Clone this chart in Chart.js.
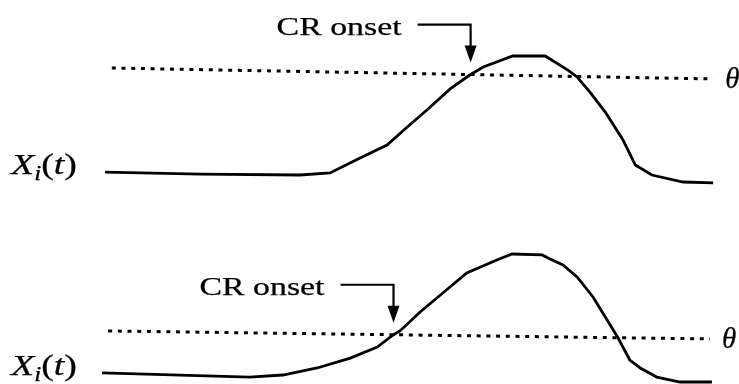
<!DOCTYPE html>
<html>
<head>
<meta charset="utf-8">
<script src="https://cdn.jsdelivr.net/npm/chart.js@4.4.1/dist/chart.umd.min.js"></script>
<style>
  html, body { margin: 0; padding: 0; background: #fff; }
  .panel { position: absolute; left: 0; width: 739px; height: 192px; }
</style>
</head>
<body>
<div class="panel" style="top:0"><canvas id="topChart" width="739" height="192"></canvas></div>
<div class="panel" style="top:192px"><canvas id="bottomChart" width="739" height="192"></canvas></div>
<script>
// response X_i(t) over time, one trace per panel (time 0..100, peak = 1)
const tTop = [0.5, 16.0, 32.3, 37.2, 42.1, 46.5, 49.8, 53.0, 56.8, 60.0, 62.2, 67.0, 72.3, 76.0, 77.5, 79.6, 82.1, 85.0, 87.0, 89.7, 94.8, 99.7];
const xTop = [0.025, 0.008, 0, 0.017, 0.143, 0.252, 0.403, 0.546, 0.723, 0.840, 0.908, 1.0, 1.0, 0.882, 0.824, 0.697, 0.529, 0.294, 0.084, 0, -0.059, -0.067];

const tBottom = [0, 24.1, 29.5, 35.1, 40.5, 44.9, 47.5, 48.6, 51.9, 55.6, 59.5, 64.4, 66.9, 71.8, 73.1, 75.2, 77.5, 80.1, 82.4, 84.2, 86.1, 87.8, 90.5, 94.3, 99.5];
const xBottom = [0.017, -0.017, 0, 0.058, 0.140, 0.231, 0.331, 0.364, 0.521, 0.678, 0.843, 0.950, 1.0, 0.992, 0.959, 0.909, 0.810, 0.645, 0.455, 0.306, 0.124, 0.058, -0.017, -0.058, -0.058];

// threshold theta, start and end of the dotted line
const thetaTopT = [1.6, 99.7];
const thetaTopV = [0.899, 0.807];
const thetaBottomT = [1.0, 99.2];
const thetaBottomV = [0.364, 0.298];

const onsetLabel = 'CR onset';
const thetaLabel = '\u03b8';

const serif = '"Liberation Serif", "Times New Roman", serif';

// draw a run of text pieces, stretched to a given width
function drawPieces(ctx, pieces, x, baseline, width, alignRight) {
    let natural = 0;
    pieces.forEach(p => {
        ctx.font = p.font;
        natural += ctx.measureText(p.text).width;
    });
    const sx = width ? width / natural : 1;
    ctx.save();
    ctx.translate(alignRight ? x - natural * sx : x, baseline);
    ctx.scale(sx, 1);
    ctx.fillStyle = '#000';
    ctx.strokeStyle = '#000';
    ctx.lineWidth = 0.25;
    ctx.textBaseline = 'alphabetic';
    ctx.textAlign = 'left';
    let cx = 0;
    pieces.forEach(p => {
        ctx.font = p.font;
        ctx.fillText(p.text, cx, p.dy || 0);
        ctx.strokeText(p.text, cx, p.dy || 0);
        cx += ctx.measureText(p.text).width;
    });
    ctx.restore();
}

// first time the response rises through the threshold line
function findOnset(resp, theta) {
    const th = t => theta[0].y + (theta[1].y - theta[0].y) * (t - theta[0].x) / (theta[1].x - theta[0].x);
    for (let i = 0; i < resp.length - 1; i++) {
        const a = resp[i], b = resp[i + 1];
        const da = a.y - th(a.x), db = b.y - th(b.x);
        if (da < 0 && db >= 0) {
            const f = -da / (db - da);
            const t = a.x + f * (b.x - a.x);
            return { x: t, y: th(t) };
        }
    }
    return null;
}

const cuePlugin = {
    id: 'cueMarks',
    afterDatasetsDraw: (chart) => {
        const ctx = chart.ctx;
        const xs = chart.scales.x, ys = chart.scales.y;
        const resp = chart.data.datasets[0].data;
        const theta = chart.data.datasets[1].data;

        // X_i(t) label left of the trace
        const startY = ys.getPixelForValue(resp[0].y);
        drawPieces(ctx, [
            { text: 'X', font: 'italic 30px ' + serif },
            { text: 'i', font: 'italic 20px ' + serif, dy: 6 },
            { text: '(', font: '30px ' + serif },
            { text: 't', font: 'italic 30px ' + serif },
            { text: ')', font: '30px ' + serif }
        ], xs.left - 25, startY + 2, 66, true);

        // theta at the end of the dotted line
        const end = theta[theta.length - 1];
        drawPieces(ctx, [{ text: thetaLabel, font: 'italic 29px ' + serif }],
            xs.getPixelForValue(end.x) + 12, ys.getPixelForValue(end.y) + 9, 0, false);

        // onset arrow
        const onset = findOnset(resp, theta);
        if (!onset) return;
        const tipX = xs.getPixelForValue(onset.x);
        const tipY = ys.getPixelForValue(onset.y) - 12;
        const topY = tipY - 38;
        const leftX = tipX - 53;
        ctx.save();
        ctx.strokeStyle = '#000';
        ctx.fillStyle = '#000';
        ctx.lineWidth = 2.2;
        ctx.beginPath();
        ctx.moveTo(leftX, topY);
        ctx.lineTo(tipX, topY);
        ctx.lineTo(tipX, tipY - 15);
        ctx.stroke();
        ctx.beginPath();
        ctx.moveTo(tipX - 6, tipY - 17);
        ctx.lineTo(tipX + 6, tipY - 17);
        ctx.lineTo(tipX, tipY);
        ctx.closePath();
        ctx.fill();
        ctx.restore();

        drawPieces(ctx, [{ text: onsetLabel, font: '26px ' + serif }], leftX - 16, topY + 10, 125, true);
    }
};

function makePanel(id, time, resp, thT, thV, padding) {
    const respData = time.map((t, i) => ({ x: t, y: resp[i] }));
    const thetaData = thT.map((t, i) => ({ x: t, y: thV[i] }));
    return new Chart(document.getElementById(id).getContext('2d'), {
        type: 'line',
        data: {
            datasets: [
                {
                    label: 'X_i(t)',
                    data: respData,
                    borderColor: '#000',
                    borderWidth: 2.8,
                    pointRadius: 0,
                    tension: 0,
                    clip: false
                },
                {
                    label: 'theta',
                    data: thetaData,
                    borderColor: '#000',
                    borderWidth: 3,
                    borderDash: [4, 5.7],
                    pointRadius: 0,
                    clip: false
                }
            ]
        },
        options: {
            responsive: false,
            animation: false,
            events: [],
            layout: { padding: padding },
            scales: {
                x: { type: 'linear', min: 0, max: 100, display: false },
                y: { min: 0, max: 1, display: false }
            },
            plugins: {
                legend: { display: false },
                tooltip: { enabled: false }
            }
        },
        plugins: [cuePlugin]
    });
}

makePanel('topChart', tTop, xTop, thetaTopT, thetaTopV, { left: 102, right: 24, top: 56, bottom: 17 });
makePanel('bottomChart', tBottom, xBottom, thetaBottomT, thetaBottomV, { left: 102, right: 24, top: 62, bottom: 9 });
</script>
</body>
</html>
